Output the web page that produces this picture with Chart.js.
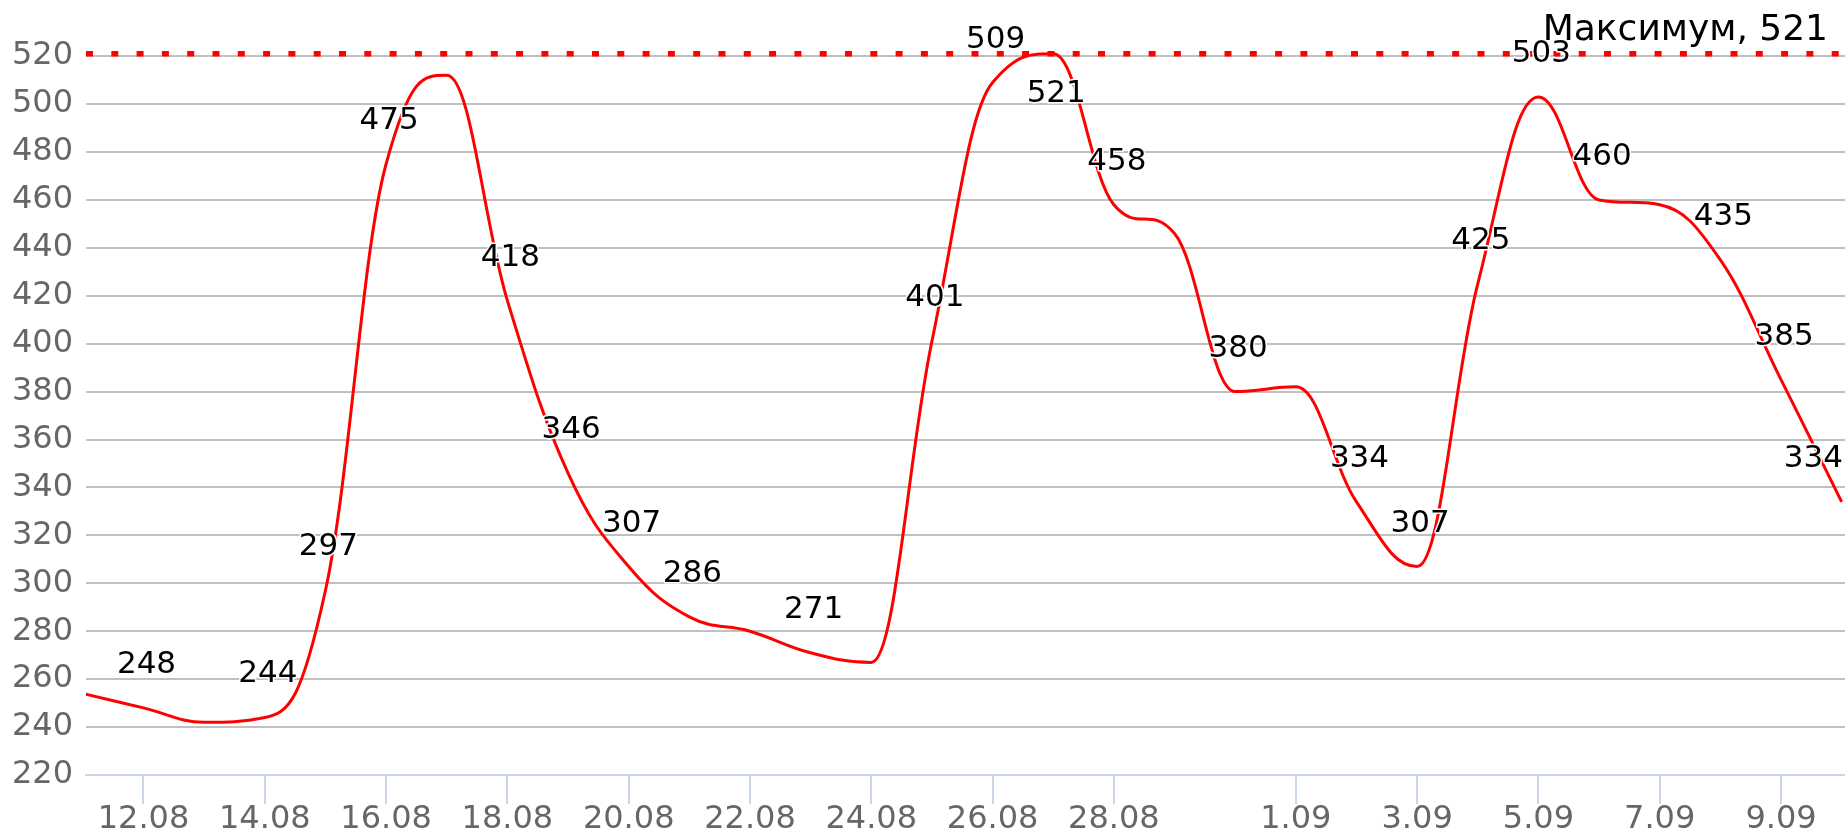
<!DOCTYPE html>
<html>
<head>
<meta charset="utf-8">
<script src="https://cdn.jsdelivr.net/npm/chart.js@4.4.1/dist/chart.umd.min.js"></script>
<style>
  html, body { margin: 0; padding: 0; background: #fff; }
  #wrap { width: 1845px; height: 839px; position: relative; }
</style>
</head>
<body>
<div id="wrap"><canvas id="visitsChart"></canvas></div>
<script>
// one point per day, the axis is ordinal (no 31.08 in the data)
const dates = ['11.08', '12.08', '13.08', '14.08', '15.08', '16.08', '17.08', '18.08', '19.08', '20.08',
               '21.08', '22.08', '23.08', '24.08', '25.08', '26.08', '27.08', '28.08', '29.08', '30.08',
               '1.09', '2.09', '3.09', '4.09', '5.09', '6.09', '7.09', '8.09', '9.09', '10.09'];
const values = [254, 248, 242, 244, 297, 475, 512, 418, 346, 307,
                286, 280, 271, 267, 401, 509, 521, 458, 446, 380,
                382, 334, 307, 425, 503, 460, 458, 435, 385, 334];
// labels the original chart did not print
const hiddenLabels = ['11.08', '13.08', '17.08', '22.08', '24.08', '29.08', '1.09', '7.09'];
const tickLabels = ['12.08', '14.08', '16.08', '18.08', '20.08', '22.08', '24.08', '26.08', '28.08',
                    '1.09', '3.09', '5.09', '7.09', '9.09'];
const yTicks = [220, 240, 260, 280, 300, 320, 340, 360, 380, 400, 420, 440, 460, 480, 500, 520];
const maxLabel = 'Максимум';

const maxValue = Math.max(...values);
const xMin = 0.052, xMax = 29.055;

Chart.defaults.font.family = "'DejaVu Sans', Verdana, sans-serif";

// highcharts-like spline: control points clamped so the curve never overshoots a neighbour
const splinePlugin = {
    id: 'splinePlugin',
    beforeDatasetsDraw(chart) {
        const meta = chart.getDatasetMeta(0);
        const pts = meta.data;
        const k = 1.5, d = k + 1;
        pts.forEach((p, i) => {
            const prev = pts[i - 1], next = pts[i + 1];
            let lx = p.x, ly = p.y, rx = p.x, ry = p.y;
            if (prev && next) {
                lx = (k * p.x + prev.x) / d; ly = (k * p.y + prev.y) / d;
                rx = (k * p.x + next.x) / d; ry = (k * p.y + next.y) / d;
                const corr = (ry - ly) * (rx - p.x) / (rx - lx) + p.y - ry;
                ly += corr; ry += corr;
                if (ly > prev.y && ly > p.y) { ly = Math.max(prev.y, p.y); ry = 2 * p.y - ly; }
                else if (ly < prev.y && ly < p.y) { ly = Math.min(prev.y, p.y); ry = 2 * p.y - ly; }
                if (ry > next.y && ry > p.y) { ry = Math.max(next.y, p.y); ly = 2 * p.y - ry; }
                else if (ry < next.y && ry < p.y) { ry = Math.min(next.y, p.y); ly = 2 * p.y - ry; }
            }
            p.cp1x = lx; p.cp1y = ly; p.cp2x = rx; p.cp2y = ry;
        });
        meta.dataset._path = undefined;
        meta.dataset._pointsUpdated = true;
    }
};

// value labels over the points + the max line caption
const labelPlugin = {
    id: 'labelPlugin',
    afterDatasetsDraw(chart) {
        const ctx = chart.ctx;
        const area = chart.chartArea;
        const meta = chart.getDatasetMeta(0);
        ctx.save();
        ctx.font = "31px 'DejaVu Sans'";
        ctx.textAlign = 'center';
        ctx.textBaseline = 'alphabetic';
        ctx.lineJoin = 'round';
        meta.data.forEach((p, i) => {
            if (hiddenLabels.includes(dates[i])) return;
            if (p.x < area.left || p.x > area.right) return;
            const txt = String(values[i]);
            const w = ctx.measureText(txt).width;
            let x = p.x + 3;
            if (x + w / 2 > area.right - 2) x = area.right - 2 - w / 2;
            let y = p.y - 35;
            if (y - 24 < 0) y = p.y + 48;
            ctx.strokeStyle = '#fff';
            ctx.lineWidth = 3;
            ctx.strokeText(txt, x, y);
            ctx.fillStyle = '#000';
            ctx.fillText(txt, x, y);
        });
        const yMax = chart.scales.y.getPixelForValue(maxValue);
        ctx.font = "36px 'DejaVu Sans'";
        ctx.textAlign = 'right';
        ctx.fillStyle = '#000';
        ctx.fillText(maxLabel + ', ' + maxValue, area.right - 17, yMax - 14);
        ctx.restore();
    }
};

const visitsChart = new Chart(document.getElementById('visitsChart'), {
    type: 'line',
    data: {
        datasets: [{
            data: values.map((v, i) => ({ x: i, y: v })),
            borderColor: '#ff0000',
            borderWidth: 3,
            pointRadius: 0,
            tension: 0.4,
            fill: false
        }, {
            data: [{ x: xMin, y: maxValue }, { x: xMax, y: maxValue }],
            borderColor: '#ff0000',
            borderWidth: 5.5,
            borderDash: [7, 18.3],
            pointRadius: 0,
            tension: 0,
            fill: false
        }]
    },
    options: {
        responsive: true,
        maintainAspectRatio: false,
        animation: false,
        events: [],
        layout: { padding: { top: 31, right: 0, bottom: 0, left: 0 } },
        plugins: {
            legend: { display: false },
            tooltip: { enabled: false }
        },
        scales: {
            x: {
                type: 'linear',
                min: xMin,
                max: xMax,
                afterBuildTicks: scale => {
                    scale.ticks = tickLabels.map(l => ({ value: dates.indexOf(l) }));
                },
                afterFit: scale => { scale.height = 64; },
                ticks: {
                    callback: v => dates[v],
                    color: '#666',
                    font: { size: 32, lineHeight: 1 },
                    padding: 0,
                    maxRotation: 0,
                    autoSkip: false
                },
                grid: {
                    drawOnChartArea: false,
                    drawTicks: true,
                    tickLength: 29,
                    color: '#ccd6eb',
                    lineWidth: 2
                },
                border: { display: true, color: '#ccd6eb', width: 2 }
            },
            y: {
                min: 220,
                max: 530,
                afterBuildTicks: scale => {
                    scale.ticks = yTicks.map(v => ({ value: v }));
                },
                afterFit: scale => { scale.width = 86; },
                ticks: {
                    color: '#666',
                    font: { size: 32 },
                    padding: 13
                },
                grid: {
                    color: c => (c.tick && c.tick.value === 220) ? 'rgba(0,0,0,0)' : '#c0c0c0',
                    lineWidth: 2,
                    drawTicks: false
                },
                border: { display: false }
            }
        }
    },
    plugins: [splinePlugin, labelPlugin]
});
</script>
</body>
</html>
